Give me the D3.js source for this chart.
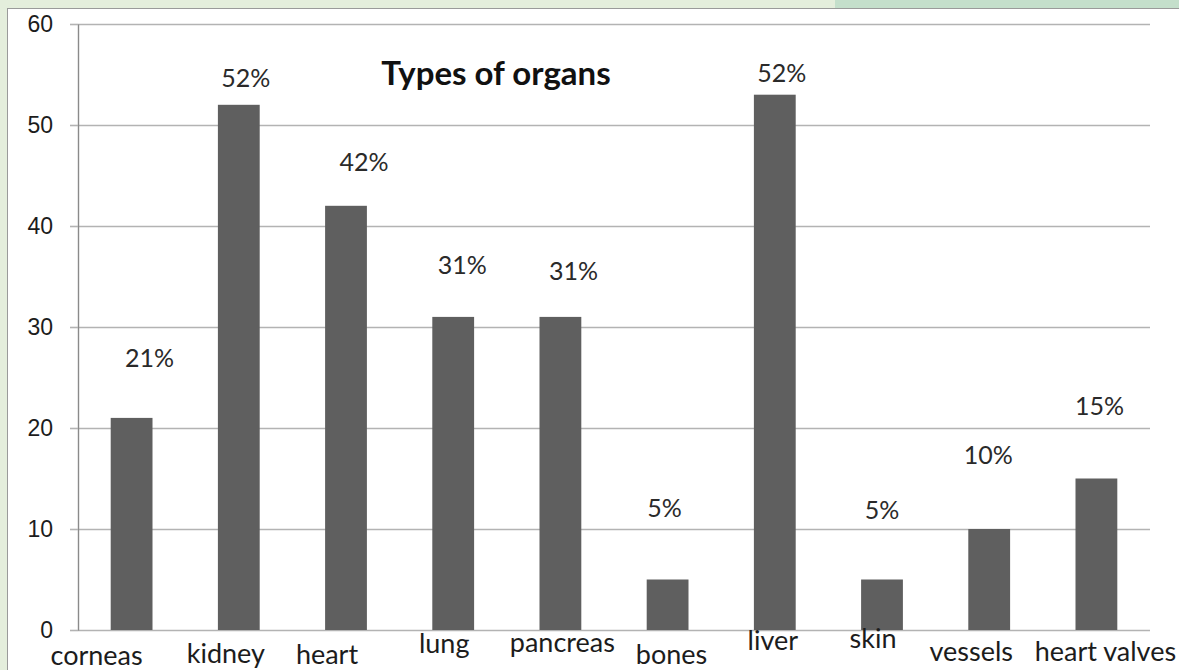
<!DOCTYPE html>
<html lang="en">
<head>
    <meta charset="UTF-8">
    <title>Types of organs</title>
    <script src="https://d3js.org/d3.v7.min.js"></script>
    <style>
        html, body { margin: 0; padding: 0; background: #ffffff; }
        svg { display: block; font-family: Lato, "Open Sans", sans-serif; }
        .grid line { stroke: #b3b3b3; stroke-width: 1.6px; }
        .grid path { display: none; }
        .yaxis path { stroke: #8a8a8a; stroke-width: 1.4px; }
        .yaxis line { stroke: #b3b3b3; stroke-width: 1.6px; }
        .yaxis text { font-size: 23px; fill: #1c1c1c; }
        .bar { fill: #5f5f5f; }
        .pct { font-size: 25px; fill: #2a2a2a; text-anchor: middle; }
        .cat { font-size: 27px; fill: #1c1c1c; text-anchor: middle; }
        .title { font-size: 33px; font-weight: bold; fill: #111; text-anchor: middle; }
    </style>
</head>
<body>
<svg width="1179" height="670"></svg>
<script>
    // data
    const categories = ["corneas", "kidney", "heart", "lung", "pancreas",
                        "bones", "liver", "skin", "vessels", "heart valves"];
    const values = [21, 52, 42, 31, 31, 5, 53, 5, 10, 15];
    const pctLabels = ["21%", "52%", "42%", "31%", "31%", "5%", "52%", "5%", "10%", "15%"];
    const yTicks = [0, 10, 20, 30, 40, 50, 60];

    // hand placed text boxes in the original (dx, dy from bar top)
    const pctShift = [[18, -60], [7, -27], [18, -44], [9, -52], [13, -46],
                      [-3, -72], [7, -22], [0, -70], [-1, -74], [3, -73]];
    // category labels: dx from band centre, baseline below the axis
    const catShift = [[-35, 35], [-13, 33], [-19, 34], [-9, 23], [2, 22],
                      [4, 34], [-2, 20], [-9, 18], [-18, 31], [9, 31]];

    const svg = d3.select("svg");
    const W = 1179, H = 670;
    const plot = {left: 78, right: 1150, top: 24, bottom: 630};

    // page frame: green strips and grey panel border
    svg.append("rect").attr("x", 0).attr("y", 0).attr("width", W).attr("height", H).attr("fill", "#e4eedc");
    svg.append("rect").attr("x", 835).attr("y", 0).attr("width", W - 835).attr("height", 9).attr("fill", "#c4dfcb");
    svg.append("rect").attr("x", 7.5).attr("y", 8.5).attr("width", W).attr("height", H)
        .attr("fill", "#ffffff").attr("stroke", "#9a9a9a").attr("stroke-width", 1);

    const x = d3.scaleBand().domain(categories).range([plot.left, plot.right]).padding(0);
    const y = d3.scaleLinear().domain([0, 60]).range([plot.bottom, plot.top]);
    const barW = x.bandwidth() * 0.39;

    // gridlines
    svg.append("g").attr("class", "grid")
        .attr("transform", "translate(" + plot.right + ",0)")
        .call(d3.axisLeft(y).tickValues(yTicks).tickSize(plot.right - plot.left).tickFormat(""));

    // y axis with outside tick marks
    svg.append("g").attr("class", "yaxis")
        .attr("transform", "translate(" + plot.left + ",0)")
        .call(d3.axisLeft(y).tickValues(yTicks).tickSizeInner(8).tickSizeOuter(0).tickPadding(17));

    // bars
    const cx = function (d) { return x(d) + x.bandwidth() / 2; };
    svg.append("g").selectAll("rect").data(categories).join("rect")
        .attr("class", "bar")
        .attr("x", function (d) { return cx(d) - barW / 2; })
        .attr("y", function (d, i) { return y(values[i]); })
        .attr("width", barW)
        .attr("height", function (d, i) { return y(0) - y(values[i]); });

    // percentage labels
    svg.append("g").selectAll("text").data(categories).join("text")
        .attr("class", "pct")
        .attr("x", function (d, i) { return cx(d) + pctShift[i][0]; })
        .attr("y", function (d, i) { return y(values[i]) + pctShift[i][1]; })
        .attr("dy", "0.36em")
        .text(function (d, i) { return pctLabels[i]; });

    // category labels
    svg.append("g").selectAll("text").data(categories).join("text")
        .attr("class", "cat")
        .attr("x", function (d, i) { return cx(d) + catShift[i][0]; })
        .attr("y", function (d, i) { return y(0) + catShift[i][1]; })
        .text(function (d) { return d; });

    // title
    svg.append("text").attr("class", "title")
        .attr("x", 496).attr("y", 85)
        .text("Types of organs");
</script>
</body>
</html>
